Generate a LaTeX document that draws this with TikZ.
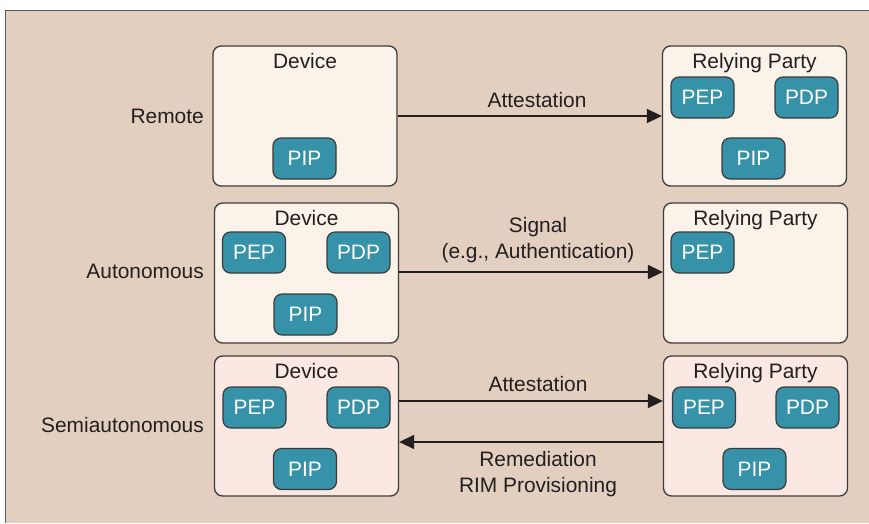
\documentclass[tikz,border=0pt]{standalone}
\usepackage{fontspec}
\setmainfont{Liberation Sans}
\usetikzlibrary{arrows.meta}
\definecolor{bg}{RGB}{227,207,192}
\definecolor{cream}{RGB}{251,243,234}
\definecolor{pinkbox}{RGB}{252,232,227}
\definecolor{teal}{RGB}{53,146,168}
\definecolor{ink}{RGB}{35,31,32}
\definecolor{edge}{RGB}{60,58,58}
\definecolor{framec}{RGB}{90,88,88}
\tikzset{
  bigbox/.style={draw=edge, line width=1.3pt, rounded corners=8pt, minimum width=184pt, minimum height=140pt, inner sep=0pt},
  smallbox/.style={draw=edge, fill=teal, line width=1.2pt, rounded corners=8pt, minimum width=63pt, minimum height=41pt, inner sep=0pt, text=white, font=\fontsize{20.9}{24}\selectfont},
  txt/.style={text=ink, font=\fontsize{20.9}{24}\selectfont, inner sep=0pt, anchor=base},
  rowlbl/.style={txt, anchor=base east},
  conn/.style={draw=ink, line width=1.5pt, -{Triangle[length=15pt,width=14pt]}}
}
\begin{document}
\begin{tikzpicture}[x=1pt,y=-1pt]
\useasboundingbox (0,0) rectangle (869,523);
\fill[white] (0,0) rectangle (869,523);
\fill[bg] (5.5,10.5) rectangle (869,523);
\draw[framec, line width=1.5pt] (5.5,523) -- (5.5,10.5) -- (869,10.5);

% Row 1: Remote
\node[bigbox, fill=cream] (dev1) at (305,116) {};
\node[bigbox, fill=cream] (rp1) at (754.5,116) {};
\node[txt] (dev1t) at (305,68) {Device};
\node[txt] (rp1t) at (754.5,68) {Relying Party};
\node[smallbox] (dev1pip) at (304.5,158.5) {PIP};
\node[smallbox] (rp1pep) at (702.5,97.5) {PEP};
\node[smallbox] (rp1pdp) at (806.5,97.5) {PDP};
\node[smallbox] (rp1pip) at (753.5,158.5) {PIP};
\node[rowlbl] (l1) at (204,123) {Remote};
\draw[conn] (dev1.east) -- (rp1.west);
\node[txt] (a1) at (537,107) {Attestation};

% Row 2: Autonomous
\node[bigbox, fill=cream] (dev2) at (306.5,273) {};
\node[bigbox, fill=cream] (rp2) at (755.5,273) {};
\node[txt] (dev2t) at (306.5,225) {Device};
\node[txt] (rp2t) at (755.5,225) {Relying Party};
\node[smallbox] (dev2pep) at (254,252.5) {PEP};
\node[smallbox] (dev2pdp) at (358.5,252.5) {PDP};
\node[smallbox] (dev2pip) at (305.5,314.5) {PIP};
\node[smallbox] (rp2pep) at (702.5,252.5) {PEP};
\node[rowlbl] (l2) at (204,278) {Autonomous};
\draw[conn] ([yshift=1pt]dev2.east) -- ([yshift=1pt]rp2.west);
\node[txt] (s1) at (538,232) {Signal};
\node[txt] (s2) at (538,258) {(e.g., Authentication)};

% Row 3: Semiautonomous
\node[bigbox, fill=pinkbox] (dev3) at (306.5,426) {};
\node[bigbox, fill=pinkbox] (rp3) at (755.5,426) {};
\node[txt] (dev3t) at (306.5,378) {Device};
\node[txt] (rp3t) at (755.5,378) {Relying Party};
\node[smallbox] (dev3pep) at (254.5,407.5) {PEP};
\node[smallbox] (dev3pdp) at (358.5,407.5) {PDP};
\node[smallbox] (dev3pip) at (305,469) {PIP};
\node[smallbox] (rp3pep) at (704,407.5) {PEP};
\node[smallbox] (rp3pdp) at (807.5,407.5) {PDP};
\node[smallbox] (rp3pip) at (754.5,469) {PIP};
\node[rowlbl] (l3) at (204,432) {Semiautonomous};
\draw[conn] ([yshift=25pt]dev3.east) -- ([yshift=25pt]rp3.west);
\draw[conn] ([yshift=-16pt]rp3.west) -- ([yshift=-16pt]dev3.east);
\node[txt] (a3) at (538,391) {Attestation};
\node[txt] (r1) at (538,466) {Remediation};
\node[txt] (r2) at (538,492) {RIM Provisioning};
\end{tikzpicture}
\end{document}
